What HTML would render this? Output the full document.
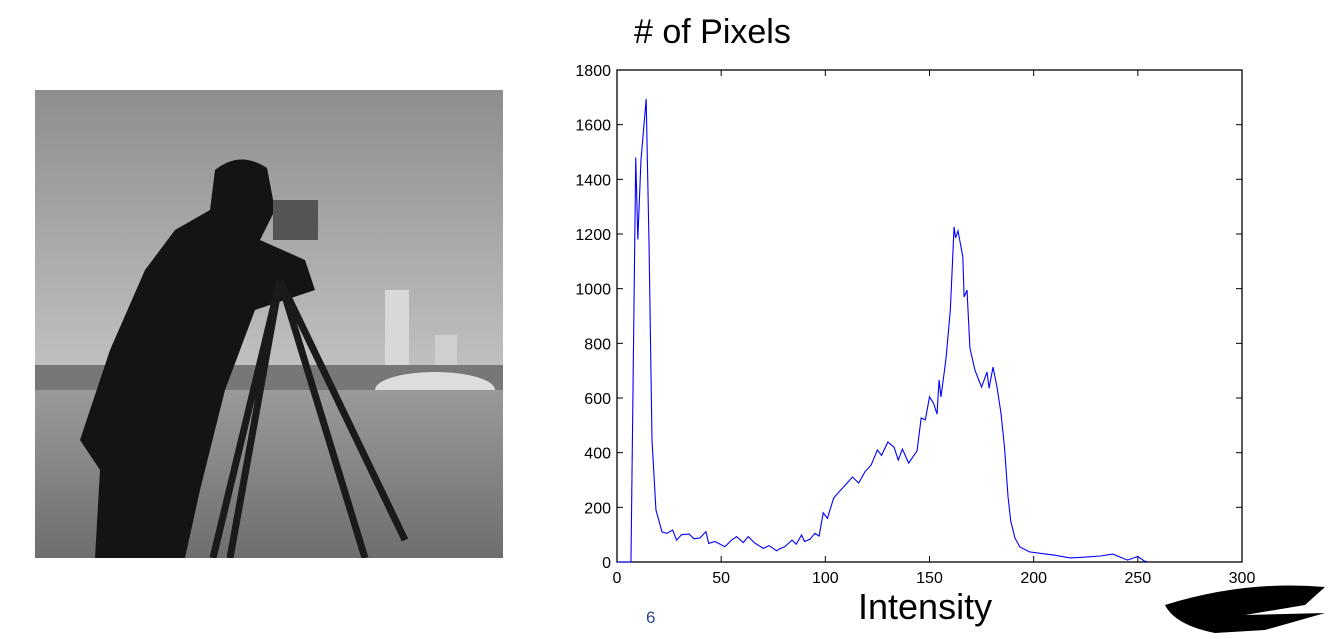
<!DOCTYPE html>
<html><head><meta charset="utf-8"><style>
body{margin:0;width:1334px;height:639px;background:#fff;overflow:hidden;font-family:"Liberation Sans",sans-serif;position:relative}
.t{position:absolute;white-space:nowrap}
</style></head><body>
<svg style="position:absolute;left:35px;top:90px" width="468" height="468">
<defs><linearGradient id="sky" x1="0" y1="0" x2="0" y2="1"><stop offset="0" stop-color="#8e8e8e"/><stop offset="1" stop-color="#c4c4c4"/></linearGradient>
<linearGradient id="gr" x1="0" y1="0" x2="0" y2="1"><stop offset="0" stop-color="#9a9a9a"/><stop offset="1" stop-color="#6e6e6e"/></linearGradient></defs>
<rect width="468" height="300" fill="url(#sky)"/>
<rect x="350" y="200" width="24" height="90" fill="#d8d8d8"/>
<rect x="400" y="245" width="22" height="45" fill="#cfcfcf"/>
<rect x="0" y="275" width="468" height="30" fill="#777"/>
<ellipse cx="400" cy="300" rx="60" ry="18" fill="#ddd"/>
<rect y="300" width="468" height="168" fill="url(#gr)"/>
<path d="M180 80 Q205 60 232 78 L240 120 L225 150 L270 170 L280 200 L220 220 L190 300 L165 400 L150 468 L60 468 L65 380 L45 350 L75 260 L110 180 L140 140 L175 120 Z" fill="#141414"/>
<rect x="238" y="110" width="45" height="40" fill="#555"/>
<path d="M245 190 L178 468 M245 190 L195 468 M245 190 L330 468 M245 190 L370 450" stroke="#1a1a1a" stroke-width="7"/>
</svg>
<div class="t" style="left:634px;top:13px;font-size:34px">#&nbsp;of Pixels</div>
<div class="t" style="left:858px;top:586px;font-size:36px">Intensity</div>
<div class="t" style="left:646px;top:608px;font-size:17px;color:#2a4a8a">6</div>
<svg style="position:absolute;left:1155px;top:575px" width="179" height="64"><path d="M10 30 Q90 5 170 12 L150 30 L90 40 L170 38 L110 55 L60 58 Q20 50 10 30Z" fill="#000"/></svg>
<svg id="chart" style="position:absolute;left:0;top:0" width="1334" height="639"></svg>
<script>
const xVals=[0,6.7,9,10,11.5,14,15.4,16.8,18.7,21.6,24,26.7,28.6,31,34.6,37,39.8,42.7,44,47,51.8,55,57.4,60.6,63,66,70.2,73,76.6,78,80.6,84,86,88.6,90,92.6,95,97,99,101,104,107,110,113,116,119,122,125,127,130,133,135,137,140,142,144,146,148,150,152,153.6,154.6,155.5,157,158,160,161.8,162.5,163.7,166,166.6,168,169.4,171.8,175,177.6,178.6,180.5,182.4,184.3,186,187.7,189,191,193.4,198,205,210,217.5,225,232,238,245,250,253,255];
const yVals=[0,0,1480,1180,1470,1694,1152,446,190,110,105,117,80,100,102,85,88,111,68,75,56,80,93,71,93,70,50,60,41,48,56,80,65,99,75,83,105,95,180,160,234,260,285,311,289,330,355,410,390,439,420,373,413,362,385,406,527,520,604,580,541,666,604,690,750,922,1226,1186,1211,1116,970,995,783,702,640,695,636,713,640,545,420,238,150,88,55,37,30,25,15,18,22,29,7,20,4,0];
const xTicks=[0,50,100,150,200,250,300];
const yTicks=[0,200,400,600,800,1000,1200,1400,1600,1800];
const NS="http://www.w3.org/2000/svg";
const L=617,R=1242,T=70,B=562;
const sx=v=>L+(v-0)/(300)*(R-L), sy=v=>B-v/1800*(B-T);
const svg=document.getElementById('chart');
function mk(tag,attrs){const e=document.createElementNS(NS,tag);for(const k in attrs)e.setAttribute(k,attrs[k]);svg.appendChild(e);return e;}
const frame=mk('rect',{x:L,y:T,width:R-L,height:B-T,fill:'none',stroke:'#000','stroke-width':1.3});


xTicks.forEach(v=>{const x=sx(v);
const a=mk('line',{x1:x,x2:x,y1:B,y2:B-6,stroke:'#000'});
const b=mk('line',{x1:x,x2:x,y1:T,y2:T+6,stroke:'#000'});
const t=mk('text',{x:x,y:B+21,'text-anchor':'middle','font-size':16,'font-family':'Liberation Sans, sans-serif'});t.textContent=v;});
yTicks.forEach(v=>{const y=sy(v);
const a=mk('line',{x1:L,x2:L+6,y1:y,y2:y,stroke:'#000'});
const b=mk('line',{x1:R,x2:R-6,y1:y,y2:y,stroke:'#000'});
const t=mk('text',{x:L-6,y:y+6,'text-anchor':'end','font-size':16,'font-family':'Liberation Sans, sans-serif'});t.textContent=v;});
const pl=mk('polyline',{points:xVals.map((x,i)=>sx(x)+','+sy(yVals[i])).join(' '),fill:'none',stroke:'#0000ff','stroke-width':1.1});


</script>
</body></html>
